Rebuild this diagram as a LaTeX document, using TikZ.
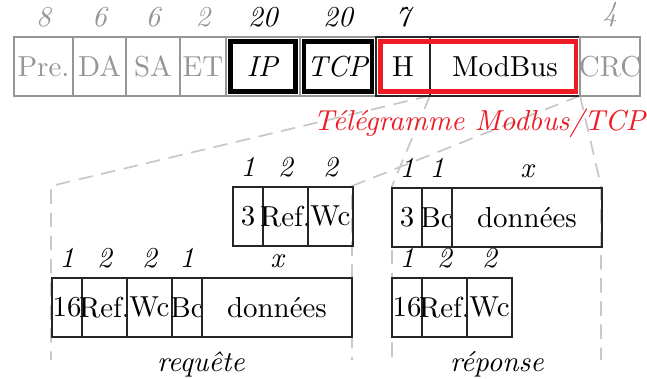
\documentclass[tikz,border=0pt]{standalone}
\usepackage{tikz}
\usetikzlibrary{positioning,backgrounds}
\definecolor{R}{RGB}{237,28,36}
\definecolor{S}{RGB}{150,150,150}
\definecolor{D}{RGB}{200,200,200}
\tikzstyle{cell} = [
rectangle,
minimum height=20.3pt,
inner sep=0pt,
outer sep=0pt,
line width=0.7pt,
text centered,
execute at begin node={\hbox to 0pt\bgroup\hss},
execute at end node={\hss\egroup},
draw=black!85
]
\tikzstyle{side} = [cell, draw=S, text=S]
\tikzstyle{b1} = [cell, minimum width=10.38pt, label distance=-1.2pt]
\tikzstyle{b2} = [cell, minimum width=15.57pt, label distance=-1.2pt]
\tikzstyle{bx} = [cell, minimum width=51.9pt, label distance=-1.2pt]
\tikzstyle{num} = [font=\itshape]
\tikzstyle{frame} = [line width=1.7pt]
\tikzstyle{fan} = [draw=D, line width=0.6pt, dash pattern=on 5pt off 3pt]

\begin{document}
\begin{tikzpicture}[x=0.346pt, y=-0.346pt]
      \useasboundingbox (0,0) rectangle (647,378);
      % trame
      \node (pre) [side, anchor=north west, minimum width=20.41pt, label={[num,text=S]above:8}] at (14,37) {Pre.};
      \node (da) [side, right=0pt of pre, minimum width=18.34pt, label={[num,text=S]above:6}] {DA};
      \node (sa) [side, right=0pt of da, minimum width=18.68pt, label={[num,text=S]above:6}] {SA};
      \node (et) [side, right=0pt of sa, minimum width=15.92pt, label={[num,text=S]above:2}] {ET};
      \node (ip) [side, right=0pt of et, minimum width=25.6pt, text=black, label={[num]above:20}] {\textit{IP}};
      \node (tcp) [side, right=0pt of ip, minimum width=26.3pt, text=black, label={[num]above:20}] {\textit{TCP}};
      \node (hdr) [cell, right=0pt of tcp, minimum width=18.68pt, label={[num]above:7}] {H};
      \node (modbus) [cell, right=0pt of hdr, minimum width=51.9pt] {ModBus};
      \node (crc) [side, right=0pt of modbus, minimum width=20.76pt, label={[num,text=S]above:4}] {CRC};
      \draw [frame] ([shift={(1.4pt,1.4pt)}]ip.south west) rectangle ([shift={(-1.4pt,-1.4pt)}]ip.north east);
      \draw [frame] ([shift={(1.4pt,1.4pt)}]tcp.south west) rectangle ([shift={(-1.4pt,-1.4pt)}]tcp.north east);
      \draw [frame, draw=R] ([shift={(1.4pt,1.4pt)}]hdr.south west) rectangle ([shift={(-1.4pt,-1.4pt)}]modbus.north east);
      \node (tele) [text=R] at (480,123) {\textit{Télégramme Modbus/TCP}};
      % requete
      \node (q3) [b1, anchor=north west, label={[num]above:1}] at (233,187) {3};
      \node (qref) [b2, right=0pt of q3, label={[num]above:2}] {Ref.};
      \node (qwc) [b2, right=0pt of qref, label={[num]above:2}] {Wc};
      \node (q16) [b1, anchor=north west, label={[num]above:1}] at (52,278) {16};
      \node (qref2) [b2, right=0pt of q16, label={[num]above:2}] {Ref.};
      \node (qwc2) [b2, right=0pt of qref2, label={[num]above:2}] {Wc};
      \node (qbc) [b1, right=0pt of qwc2, label={[num]above:1}] {Bc};
      \node (qdata) [bx, right=0pt of qbc, label={[num]above:x}] {données};
      \node (req) at (201,364) {\textit{requête}};
      % reponse
      \node (r3) [b1, anchor=north west, label={[num]above:1}] at (392,188) {3};
      \node (rbc) [b1, right=0pt of r3, label={[num]above:1}] {Bc};
      \node (rdata) [bx, right=0pt of rbc, label={[num]above:x}] {données};
      \node (r16) [b1, anchor=north west, label={[num]above:1}] at (392,278) {16};
      \node (rref) [b2, right=0pt of r16, label={[num]above:2}] {Ref.};
      \node (rwc) [b2, right=0pt of rref, label={[num]above:2}] {Wc};
      \node (rep) at (497,364) {\textit{réponse}};
      \coordinate (qtl) at (51,186);
      \coordinate (qtr) at (352,186);
      \coordinate (rtl) at (392,186);
      \coordinate (rtr) at (601,186);
      \coordinate (qbl) at (51,360);
      \coordinate (qbr) at (352,360);
      \coordinate (rbl) at (392,360);
      \coordinate (rbr) at (601,360);
      \begin{scope}[on background layer]
      \draw [fan] (modbus.south west) -- (qtl) -- (qbl);
      \draw [fan] (modbus.south east) -- (qtr) -- (qbr);
      \draw [fan] (modbus.south west) -- (rtl) -- (rbl);
      \draw [fan] (modbus.south east) -- (rtr) -- (rbr);
      \end{scope}
\end{tikzpicture}
\end{document}
